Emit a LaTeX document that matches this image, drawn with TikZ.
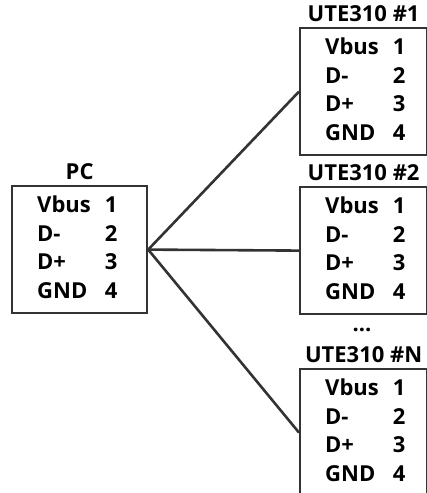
\documentclass[tikz,border=0pt]{standalone}
\usepackage{fontspec}
\setmainfont{Open Sans}
\usetikzlibrary{positioning}

\begin{document}
\begin{tikzpicture}[x=1pt, y=-1pt,
  devbox/.style={draw=black!80, line width=2.2pt, anchor=north west, inner sep=0pt, minimum height=127pt},
  devtitle/.style={font=\fontsize{22}{22}\selectfont\bfseries, inner sep=0pt},
  pins/.style={font=\fontsize{22}{22}\selectfont\bfseries, inner sep=0pt, anchor=west},
  wire/.style={draw=black!80, line width=2.6pt}
]
  \useasboundingbox (0,0) rectangle (427,493);
  \newcommand{\pintable}{\renewcommand{\arraystretch}{1.3}%
    \begin{tabular}{@{}l@{\hspace{14pt}}c@{}}Vbus & 1\\ D- & 2\\ D+ & 3\\ GND & 4\end{tabular}}

  % host side
  \node[devbox, minimum width=135pt] (pc) at (11,185) {};
  \node[devtitle, above=5pt of pc] (pctitle) {PC};
  \node[pins, right=26pt of pc.west] (pcpins) {\pintable};

  % devices
  \node[devbox, minimum width=127pt] (ute1) at (299,27) {};
  \node[devtitle, above=5pt of ute1] (ute1title) {UTE310 \#1};
  \node[pins, right=26pt of ute1.west] (ute1pins) {\pintable};

  \node[devbox, minimum width=127pt] (ute2) at (299,186) {};
  \node[devtitle, above=5pt of ute2] (ute2title) {UTE310 \#2};
  \node[pins, right=26pt of ute2.west] (ute2pins) {\pintable};

  \node[devtitle] (dots) at (362,330) {...};

  \node[devbox, minimum width=127pt] (uteN) at (299,368) {};
  \node[devtitle, above=5pt of uteN] (uteNtitle) {UTE310 \#N};
  \node[pins, right=26pt of uteN.west] (uteNpins) {\pintable};

  \draw[wire] (pc.east) -- (ute1.west);
  \draw[wire] (pc.east) -- (ute2.west);
  \draw[wire] (pc.east) -- (uteN.west);
\end{tikzpicture}
\end{document}
